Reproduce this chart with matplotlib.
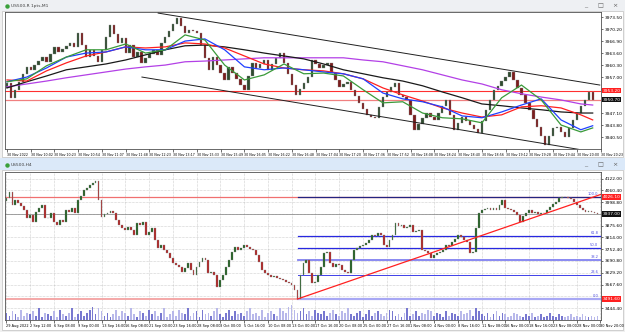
import numpy as np
import matplotlib.pyplot as plt
from matplotlib.patches import Rectangle

W, H = 625, 332

# ---------------- top window: US500 renko, 1 pt bricks on M1 ----------------
top_open0 = 3954.0
top_close = [
    3955.4, 3951.2, 3953.5, 3955.6, 3957.9, 3959.8, 3959.0, 3960.3, 3961.4, 3962.5,
    3961.2, 3963.4, 3965.3, 3963.9, 3964.7, 3965.6, 3966.4, 3965.3, 3969.1, 3965.8,
    3962.5, 3964.5, 3962.8, 3961.1, 3964.5, 3968.0, 3971.3, 3968.9, 3966.4, 3967.8,
    3963.6, 3965.8, 3962.5, 3963.9, 3960.9, 3962.3, 3963.4, 3964.5, 3963.1, 3966.4,
    3968.0, 3969.7, 3971.6, 3973.3, 3971.1, 3969.1, 3970.0, 3969.7, 3969.1, 3965.8,
    3962.3, 3959.0, 3962.5, 3960.3, 3958.1, 3956.2, 3959.8, 3958.1, 3956.5, 3954.8,
    3953.5, 3957.3, 3960.9, 3959.5, 3960.6, 3961.7, 3959.0, 3960.6, 3962.3, 3963.6,
    3960.9, 3957.9, 3954.8, 3952.1, 3953.7, 3955.4, 3957.0, 3961.7, 3960.6, 3959.5,
    3960.3, 3960.9, 3958.1, 3956.2, 3954.3, 3955.1, 3955.6, 3953.5, 3951.8, 3949.9,
    3948.2, 3946.6, 3946.0, 3945.8, 3948.8, 3951.5, 3952.9, 3954.3, 3955.4, 3952.1,
    3951.5, 3950.7, 3946.6, 3942.5, 3944.1, 3945.8, 3947.1, 3946.0, 3945.2, 3947.1,
    3949.0, 3950.7, 3946.6, 3942.5, 3944.4, 3946.0, 3944.9, 3943.8, 3942.7, 3941.6,
    3944.9, 3947.9, 3950.7, 3953.5, 3954.6, 3955.9, 3957.0, 3958.4, 3956.2, 3954.0,
    3952.1, 3949.9, 3947.9, 3945.5, 3943.3, 3940.8, 3938.3, 3940.8, 3943.0, 3943.3,
    3941.9, 3940.5, 3943.0, 3945.2, 3947.1, 3949.0, 3950.7, 3952.9, 3950.7,
]

# moving averages read every 5 bricks
ma_idx = list(range(0, 150, 5)) + [148]
ma_green = [3955.7, 3956.5, 3960.1, 3962.5, 3964.5, 3964.5, 3966.1, 3963.6, 3964.5, 3968.6,
            3967.2, 3960.3, 3956.2, 3957.6, 3960.6, 3957.9, 3958.1, 3957.3, 3953.5, 3949.9,
            3950.2, 3947.1, 3945.8, 3945.5, 3944.4, 3951.3, 3954.8, 3950.7, 3943.8, 3941.9, 3943.0]
ma_blue = [3955.7, 3957.0, 3959.5, 3962.5, 3963.6, 3963.9, 3965.3, 3964.5, 3964.5, 3966.9,
           3967.5, 3964.5, 3959.8, 3959.0, 3959.5, 3959.0, 3958.4, 3957.9, 3956.5, 3952.6,
           3951.0, 3950.2, 3948.8, 3946.3, 3945.8, 3947.4, 3949.3, 3951.0, 3945.2, 3942.5, 3943.6]
ma_red = [3956.2, 3955.9, 3958.7, 3960.9, 3962.8, 3963.9, 3965.3, 3965.0, 3965.3, 3966.4,
          3966.1, 3965.0, 3962.8, 3960.6, 3959.5, 3959.0, 3958.7, 3957.9, 3956.5, 3954.0,
          3952.1, 3950.4, 3948.5, 3947.1, 3946.0, 3946.6, 3948.8, 3949.1, 3948.5, 3946.6, 3945.2]
ma_black = [3954.0, 3955.7, 3957.3, 3959.0, 3959.8, 3960.6, 3961.7, 3963.1, 3964.5, 3965.6,
            3965.8, 3965.3, 3964.5, 3963.6, 3962.8, 3962.0, 3960.6, 3959.0, 3957.9, 3956.8,
            3955.9, 3954.6, 3952.9, 3951.3, 3949.6, 3949.1, 3948.5, 3948.0, 3947.4, 3947.1, 3947.1]
ma_purple = [3954.3, 3955.1, 3955.9, 3956.8, 3957.6, 3958.4, 3959.2, 3959.8, 3960.3, 3961.2,
             3961.4, 3961.7, 3962.0, 3962.3, 3962.3, 3962.3, 3962.3, 3962.3, 3961.7, 3961.2,
             3960.1, 3959.0, 3957.6, 3956.2, 3955.1, 3953.5, 3952.4, 3951.5, 3950.7, 3949.6, 3949.3]

chan_up_x, chan_up_y = [38.2, 149.8], [3974.6, 3954.8]
chan_lo_x, chan_lo_y = [34.1, 145.0], [3957.0, 3937.0]
top_red_level = 3953.2
top_bid = 3950.7
top_yticks = [3940.50, 3943.80, 3947.10, 3950.40, 3953.70, 3957.00, 3960.30,
              3963.60, 3966.90, 3970.20, 3973.50]
top_times = ["30 Nov 2022", "30 Nov 10:02", "30 Nov 10:23", "30 Nov 10:54", "30 Nov 11:07",
             "30 Nov 11:48", "30 Nov 12:23", "30 Nov 13:17", "30 Nov 15:33", "30 Nov 15:49",
             "30 Nov 16:05", "30 Nov 16:22", "30 Nov 16:48", "30 Nov 17:04", "30 Nov 17:20",
             "30 Nov 17:36", "30 Nov 17:52", "30 Nov 18:08", "30 Nov 18:24", "30 Nov 18:40",
             "30 Nov 18:56", "30 Nov 19:12", "30 Nov 19:28", "30 Nov 19:44", "30 Nov 20:00",
             "30 Nov 20:23"]

# ---------------- bottom window: US500 H4 ----------------
bot_open0 = 4005.0
bot_close = [
    4020.8, 4052.3, 3984.2, 4010.4, 3994.6, 3978.9, 3958.0, 3916.0, 3931.8, 3895.1,
    3947.5, 3968.4, 3984.2, 3916.0, 3916.0, 3942.2, 3895.1, 3879.4, 3905.6, 3895.1,
    3958.0, 3947.5, 3968.4, 3942.2, 4010.4, 4031.3, 4062.8, 4073.2, 4089.0, 4099.4,
    4109.9, 4010.4, 3921.3, 3937.0, 3942.2, 3952.7, 3942.2, 3905.6, 3879.4, 3863.6,
    3853.2, 3868.9, 3853.2, 3827.0, 3889.8, 3879.4, 3895.1, 3827.0, 3842.7, 3863.6,
    3800.8, 3758.8, 3774.6, 3748.4, 3732.6, 3706.4, 3680.2, 3669.8, 3659.3, 3633.1,
    3654.0, 3680.2, 3643.6, 3617.4, 3659.3, 3685.5, 3706.4, 3696.0, 3627.8, 3633.1,
    3617.4, 3554.5, 3591.2, 3617.4, 3659.3, 3696.0, 3737.9, 3764.1, 3748.4, 3758.8,
    3774.6, 3764.1, 3753.6, 3748.4, 3722.2, 3685.5, 3643.6, 3627.8, 3617.4, 3606.9,
    3612.1, 3601.6, 3596.4, 3591.2, 3580.7, 3575.4, 3565.0, 3538.8, 3491.6, 3617.4,
    3680.2, 3696.0, 3627.8, 3575.4, 3580.7, 3617.4, 3659.3, 3732.6, 3737.9, 3680.2,
    3659.3, 3675.0, 3669.8, 3643.6, 3633.1, 3627.8, 3696.0, 3748.4, 3758.8, 3769.3,
    3774.6, 3785.0, 3800.8, 3827.0, 3821.7, 3837.4, 3827.0, 3774.6, 3764.1, 3800.8,
    3827.0, 3889.8, 3874.1, 3879.4, 3863.6, 3868.9, 3879.4, 3842.7, 3847.9, 3853.2,
    3748.4, 3743.1, 3732.6, 3706.4, 3722.2, 3732.6, 3737.9, 3748.4, 3774.6, 3769.3,
    3790.3, 3806.0, 3827.0, 3816.5, 3800.8, 3790.3, 3732.6, 3737.9, 3863.6, 3942.2,
    3958.0, 3963.2, 3968.4, 3958.0, 3968.4, 3958.0, 3984.2, 4010.4, 3968.4, 3963.2,
    3958.0, 3947.5, 3931.8, 3895.1, 3926.5, 3942.2, 3958.0, 3942.2, 3947.5, 3937.0,
    3942.2, 3942.2, 3958.0, 3973.7, 3989.4, 3999.9, 4020.8, 4026.1, 4023.5, 4020.8,
    4015.6, 3999.9, 3984.2, 3968.4, 3958.0, 3947.5, 3952.7, 3947.5, 3942.2, 3937.0,
]
bot_volume = [
    5, 3, 6, 4, 2, 7, 3, 5, 4, 6, 3, 8, 2, 5, 4, 3, 6, 2, 7, 4,
    3, 5, 8, 2, 4, 6, 3, 5, 7, 9, 4, 8, 6, 3, 5, 2, 4, 7, 3, 6,
    5, 3, 8, 4, 2, 6, 5, 3, 7, 4, 6, 3, 5, 8, 2, 4, 6, 3, 7, 5,
    4, 8, 3, 5, 6, 2, 7, 4, 5, 3, 6, 8, 4, 2, 5, 7, 3, 6, 4, 5,
    3, 6, 8, 4, 5, 3, 7, 2, 5, 6, 4, 3, 8, 6, 5, 9, 10, 7, 5, 6,
    8, 4, 6, 3, 7, 5, 4, 6, 3, 5, 7, 4, 3, 6, 5, 8, 4, 3, 5, 6,
    2, 4, 7, 3, 5, 6, 4, 3, 5, 7, 6, 3, 4, 2, 5, 8, 3, 4, 6, 3,
    5, 4, 7, 6, 3, 5, 4, 2, 6, 3, 5, 4, 3, 6, 4, 5, 7, 3, 8, 6,
    4, 3, 5, 2, 4, 6, 3, 5, 4, 2, 3, 5, 4, 3, 2, 4, 3, 5, 2, 3,
    4, 2, 3, 5, 3, 2, 4, 3, 2, 3, 4, 2, 3, 2, 4, 3, 2, 3, 2, 3,
]
fib_start = 98
fib_levels = [0.0, 23.6, 38.2, 50.0, 61.8, 100.0]
fib_low, fib_high = 3491.6, 4026.1
trend_x, trend_y = [98, 200.2], [3491.6, 4040.0]
bot_bid = 3937.0
bot_yticks = [3444.40, 3506.00, 3567.60, 3629.20, 3690.80, 3752.40, 3814.00,
              3875.60, 3937.20, 3998.80, 4060.40, 4122.00]
bot_times = ["29 Aug 2022", "2 Sep 12:00", "6 Sep 08:00", "9 Sep 00:00", "13 Sep 16:00",
             "16 Sep 08:00", "21 Sep 00:00", "23 Sep 16:00", "28 Sep 08:00", "3 Oct 00:00",
             "5 Oct 16:00", "10 Oct 08:00", "13 Oct 00:00", "17 Oct 16:00", "20 Oct 08:00",
             "25 Oct 00:00", "27 Oct 16:00", "1 Nov 08:00", "4 Nov 00:00", "8 Nov 16:00",
             "11 Nov 08:00", "16 Nov 00:00", "18 Nov 16:00", "23 Nov 08:00", "28 Nov 00:00",
             "30 Nov 20:00"]

FS = 3.2
plt.rcParams['font.family'] = ['DejaVu Sans']

fig = plt.figure(figsize=(W / 100, H / 100), dpi=100)
fig.patch.set_facecolor('#f0f0f0')


def px_axes(x0, y0, x1, y1, **kw):
    return fig.add_axes([x0 / W, 1 - y1 / H, (x1 - x0) / W, (y1 - y0) / H], **kw)


# window chrome
bg = fig.add_axes([0, 0, 1, 1], zorder=-5)
bg.set_xlim(0, W)
bg.set_ylim(H, 0)
bg.axis('off')
bg.add_patch(Rectangle((0, 0), W, 11, fc='#eef0f3', ec='none'))
bg.add_patch(Rectangle((2, 11), 621, 146, fc='white', ec='#c0c0c0', lw=0.5))
bg.add_patch(Rectangle((0, 158), W, 12, fc='#dbe9f9', ec='none'))
bg.add_patch(Rectangle((2, 170), 621, 160, fc='white', ec='#c0c0c0', lw=0.5))
for yy, title in [(5.5, "US500,R 1pts,M1"), (164.5, "US500,H4")]:
    bg.plot(7, yy, 'o', ms=2.2, color='#3aa03a')
    bg.text(11, yy, title, fontsize=FS, va='center', color='#404040')
    for xx, s in [(586, "_"), (600, "\u25a1"), (615, "\u00d7")]:
        bg.text(xx, yy, s, fontsize=4.5, va='center', ha='center', color='#606060')
bg.add_patch(Rectangle((14, 14.5), 3, 3, fc='#f0a030', ec='none'))
bg.text(19, 16, "US500,R1pts, M1:  US SPX 500 Index", fontsize=2.8, va='center', color='#303030')
bg.add_patch(Rectangle((8, 175), 3, 3, fc='#7090e0', ec='none'))
bg.add_patch(Rectangle((13, 175), 3, 3, fc='#f0a030', ec='none'))
bg.text(19, 176.5, "US500, H4:  US SPX 500 Index", fontsize=2.8, va='center', color='#303030')
bg.text(588, 17, "RENKOCHART", fontsize=2.8, va='center', ha='right', color='#303030')
bg.add_patch(Rectangle((590, 15.5), 4, 3, fc='#c0c0c0', ec='none'))


def style_axes(ax, xfs):
    for sp in ax.spines.values():
        sp.set_color('#505050')
        sp.set_linewidth(0.6)
    ax.yaxis.tick_right()
    ax.tick_params(axis='y', direction='out', length=1.5, width=0.4, labelsize=FS, pad=1.5)
    ax.tick_params(axis='x', direction='out', length=2, width=0.4, labelsize=xfs, pad=0.8)


def draw_candles(ax, open0, closes, width, up_c, dn_c):
    closes = np.asarray(closes)
    opens = np.concatenate([[open0], closes[:-1]])
    x = np.arange(len(closes))
    up = closes >= opens
    body = np.where(np.abs(closes - opens) < 1e-9, 0.01, closes - opens)
    ax.bar(x, body, bottom=opens, width=width, color=np.where(up, up_c, dn_c),
           edgecolor='#8c8c8c', linewidth=0.25, zorder=3)
    return up


def price_box(ax, val, text, fc):
    ax.text(1.003, val, text, transform=ax.get_yaxis_transform(), fontsize=FS,
            color='white', va='center', ha='left', clip_on=False, zorder=10,
            bbox=dict(boxstyle='square,pad=0.12', fc=fc, ec='none'))


def tick_labels(ticks, boxes, gap):
    # labels hidden under a price box are left blank, as the terminal does
    return ["" if any(abs(t - b) < gap for b in boxes) else f"{t:.2f}" for t in ticks]


# ---------------- top chart ----------------
ax1 = px_axes(5, 12, 601, 149)
ax1.set_xlim(-0.5, 150.1)
ax1.set_ylim(3937.2, 3974.9)
style_axes(ax1, 2.3)
draw_candles(ax1, top_open0, top_close, 0.6, '#2e4a2e', '#7a1c1c')
ax1.plot(ma_idx, ma_purple, color='#b340e6', lw=0.9, zorder=4)
ax1.plot(ma_idx, ma_black, color='#1a1a1a', lw=0.9, zorder=4)
ax1.plot(ma_idx, ma_red, color='#ff2020', lw=0.9, zorder=4)
ax1.plot(ma_idx, ma_blue, color='#2040ff', lw=0.9, zorder=4)
ax1.plot(ma_idx, ma_green, color='#3a9a3a', lw=0.9, zorder=4)
ax1.plot(chan_up_x, chan_up_y, color='#202020', lw=0.7, zorder=5)
ax1.plot(chan_lo_x, chan_lo_y, color='#202020', lw=0.7, zorder=5)
ax1.axhline(top_red_level, color='#ff3030', lw=0.8, zorder=2)
ax1.axhline(top_bid, color='#f08080', lw=0.9, zorder=2)
ax1.set_yticks(top_yticks)
ax1.set_yticklabels(tick_labels(top_yticks, [top_red_level, top_bid], 1.0))
ax1.set_xticks(np.arange(len(top_times)) * 6)
ax1.set_xticklabels(top_times, ha='left')
price_box(ax1, top_red_level, f"{top_red_level:.2f}", '#ff2020')
price_box(ax1, top_bid, f"{top_bid:.2f}", '#101010')

# ---------------- bottom chart ----------------
ax2 = px_axes(5, 172, 601, 320)
ax2v = ax2.twinx()
ax2.set_xlim(-0.5, 200.2)
ax2.set_ylim(3381.6, 4157.1)
style_axes(ax2, 2.5)
ax2.set_yticks(bot_yticks)
ax2.set_yticklabels(tick_labels(bot_yticks, [fib_high, bot_bid, fib_low], 20))
ax2.set_xticks(np.arange(len(bot_times)) * 8)
ax2.set_xticklabels(bot_times, ha='left')
ax2.grid(True, color='#a8a8a8', lw=0.4, linestyle=(0, (1, 1.5)))
ax2.set_axisbelow(True)

up = draw_candles(ax2, bot_open0, bot_close, 0.62, '#1e5e1e', '#b02020')
ax2.axhline(fib_high, color='#f07070', lw=0.9, zorder=2)
ax2.axhline(fib_low, color='#f4a8a8', lw=1.4, zorder=2)
ax2.axhline(bot_bid, color='#808080', lw=0.5, zorder=2)
fib_style = {0.0: ('#a8a8f4', 1.6), 23.6: ('#4040e8', 0.7), 38.2: ('#8080f0', 1.3),
             50.0: ('#2828e0', 0.9), 61.8: ('#2828e0', 0.9), 100.0: ('#242480', 0.9)}
for lev in fib_levels:
    val = fib_low + (fib_high - fib_low) * lev / 100
    c, lw = fib_style[lev]
    ax2.plot([fib_start, 200.2], [val, val], color=c, lw=lw, zorder=2.5)
    ax2.text(199.3, val + 4, f"{lev:.1f}", fontsize=2.6, color='#5050e0',
             ha='right', va='bottom', zorder=6)
ax2.plot(trend_x, trend_y, color='#ff2020', lw=0.9, zorder=5)
price_box(ax2, fib_high, f"{fib_high:.2f}", '#ff2020')
price_box(ax2, bot_bid, f"{bot_bid:.2f}", '#101010')
price_box(ax2, fib_low, f"{fib_low:.2f}", '#ff2020')

ax2v.set_ylim(0, max(bot_volume) * 148 / 15)
ax2v.bar(np.arange(len(bot_volume)), bot_volume, width=0.6,
         color=np.where(up, '#7878d0', '#b8b8ea'), zorder=1)
ax2v.axis('off')

fig.savefig("out.png", dpi=100, facecolor=fig.get_facecolor())
